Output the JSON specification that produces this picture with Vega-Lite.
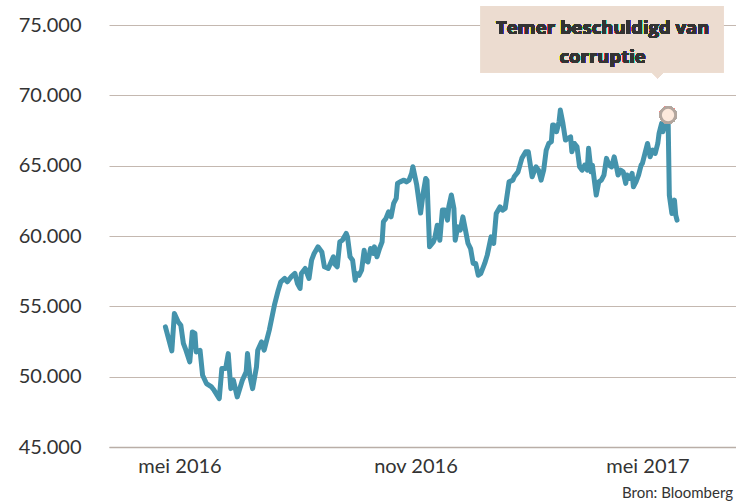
{
  "$schema": "https://vega.github.io/schema/vega-lite/v6.json",
  "width": 627,
  "height": 422,
  "autosize": {"type": "none"},
  "padding": {"left": 109, "top": 25, "right": 0, "bottom": 55},
  "background": "#ffffff",
  "config": {
    "view": {"stroke": null},
    "font": "Lato",
    "axis": {"labelFont": "Lato", "labelColor": "#333333"}
  },
  "title": {
    "text": "Bron: Bloomberg",
    "orient": "bottom",
    "anchor": "end",
    "fontSize": 15,
    "fontWeight": "normal",
    "font": "Lato",
    "color": "#333333",
    "offset": 10,
    "dx": -3
  },
  "data": {
    "values": [
      {"date": "2016-04-20", "value": 53540},
      {"date": "2016-04-25", "value": 51830},
      {"date": "2016-04-27", "value": 54490},
      {"date": "2016-04-30", "value": 53890},
      {"date": "2016-05-02", "value": 53660},
      {"date": "2016-05-04", "value": 52360},
      {"date": "2016-05-06", "value": 51880},
      {"date": "2016-05-09", "value": 51050},
      {"date": "2016-05-11", "value": 53180},
      {"date": "2016-05-13", "value": 53070},
      {"date": "2016-05-14", "value": 51760},
      {"date": "2016-05-17", "value": 51880},
      {"date": "2016-05-19", "value": 50100},
      {"date": "2016-05-22", "value": 49510},
      {"date": "2016-05-26", "value": 49270},
      {"date": "2016-05-28", "value": 49030},
      {"date": "2016-06-01", "value": 48440},
      {"date": "2016-06-03", "value": 50580},
      {"date": "2016-06-06", "value": 50580},
      {"date": "2016-06-08", "value": 51640},
      {"date": "2016-06-10", "value": 49150},
      {"date": "2016-06-12", "value": 49750},
      {"date": "2016-06-15", "value": 48560},
      {"date": "2016-06-19", "value": 49750},
      {"date": "2016-06-22", "value": 50340},
      {"date": "2016-06-23", "value": 51640},
      {"date": "2016-06-25", "value": 49980},
      {"date": "2016-06-27", "value": 49150},
      {"date": "2016-06-30", "value": 50690},
      {"date": "2016-07-01", "value": 51880},
      {"date": "2016-07-04", "value": 52470},
      {"date": "2016-07-06", "value": 51880},
      {"date": "2016-07-08", "value": 52590},
      {"date": "2016-07-10", "value": 53300},
      {"date": "2016-07-14", "value": 55080},
      {"date": "2016-07-17", "value": 56150},
      {"date": "2016-07-19", "value": 56740},
      {"date": "2016-07-22", "value": 56980},
      {"date": "2016-07-24", "value": 56740},
      {"date": "2016-07-27", "value": 57090},
      {"date": "2016-07-30", "value": 57340},
      {"date": "2016-08-01", "value": 56620},
      {"date": "2016-08-03", "value": 56270},
      {"date": "2016-08-04", "value": 57340},
      {"date": "2016-08-07", "value": 57690},
      {"date": "2016-08-08", "value": 57450},
      {"date": "2016-08-10", "value": 56980},
      {"date": "2016-08-12", "value": 58280},
      {"date": "2016-08-14", "value": 58760},
      {"date": "2016-08-17", "value": 59230},
      {"date": "2016-08-20", "value": 58870},
      {"date": "2016-08-22", "value": 57810},
      {"date": "2016-08-25", "value": 57690},
      {"date": "2016-08-29", "value": 58520},
      {"date": "2016-08-30", "value": 58000},
      {"date": "2016-09-01", "value": 57810},
      {"date": "2016-09-03", "value": 59580},
      {"date": "2016-09-05", "value": 59700},
      {"date": "2016-09-08", "value": 60180},
      {"date": "2016-09-09", "value": 59940},
      {"date": "2016-09-11", "value": 58520},
      {"date": "2016-09-13", "value": 58280},
      {"date": "2016-09-15", "value": 56860},
      {"date": "2016-09-16", "value": 57340},
      {"date": "2016-09-18", "value": 57210},
      {"date": "2016-09-20", "value": 57570},
      {"date": "2016-09-22", "value": 58990},
      {"date": "2016-09-23", "value": 58280},
      {"date": "2016-09-25", "value": 58160},
      {"date": "2016-09-27", "value": 59110},
      {"date": "2016-09-29", "value": 58760},
      {"date": "2016-09-30", "value": 59230},
      {"date": "2016-10-02", "value": 58520},
      {"date": "2016-10-04", "value": 59110},
      {"date": "2016-10-06", "value": 59580},
      {"date": "2016-10-07", "value": 61010},
      {"date": "2016-10-09", "value": 61250},
      {"date": "2016-10-11", "value": 61720},
      {"date": "2016-10-13", "value": 61360},
      {"date": "2016-10-15", "value": 62320},
      {"date": "2016-10-17", "value": 62670},
      {"date": "2016-10-18", "value": 63740},
      {"date": "2016-10-20", "value": 63850},
      {"date": "2016-10-23", "value": 63970},
      {"date": "2016-10-25", "value": 63850},
      {"date": "2016-10-27", "value": 63970},
      {"date": "2016-10-29", "value": 64450},
      {"date": "2016-10-30", "value": 64920},
      {"date": "2016-11-02", "value": 63620},
      {"date": "2016-11-05", "value": 61630},
      {"date": "2016-11-07", "value": 63030},
      {"date": "2016-11-09", "value": 64090},
      {"date": "2016-11-10", "value": 63970},
      {"date": "2016-11-12", "value": 59230},
      {"date": "2016-11-15", "value": 59580},
      {"date": "2016-11-16", "value": 59830},
      {"date": "2016-11-18", "value": 60770},
      {"date": "2016-11-20", "value": 59700},
      {"date": "2016-11-22", "value": 61840},
      {"date": "2016-11-24", "value": 61840},
      {"date": "2016-11-26", "value": 61130},
      {"date": "2016-11-27", "value": 62070},
      {"date": "2016-11-29", "value": 62910},
      {"date": "2016-12-01", "value": 61960},
      {"date": "2016-12-02", "value": 59700},
      {"date": "2016-12-04", "value": 60650},
      {"date": "2016-12-06", "value": 60420},
      {"date": "2016-12-08", "value": 61360},
      {"date": "2016-12-10", "value": 60420},
      {"date": "2016-12-12", "value": 59470},
      {"date": "2016-12-14", "value": 59110},
      {"date": "2016-12-16", "value": 58050},
      {"date": "2016-12-18", "value": 58050},
      {"date": "2016-12-20", "value": 57210},
      {"date": "2016-12-22", "value": 57340},
      {"date": "2016-12-25", "value": 58050},
      {"date": "2016-12-27", "value": 58640},
      {"date": "2016-12-30", "value": 59940},
      {"date": "2017-01-01", "value": 59470},
      {"date": "2017-01-03", "value": 61600},
      {"date": "2017-01-06", "value": 62070},
      {"date": "2017-01-08", "value": 61840},
      {"date": "2017-01-10", "value": 61960},
      {"date": "2017-01-13", "value": 63850},
      {"date": "2017-01-16", "value": 63970},
      {"date": "2017-01-17", "value": 64210},
      {"date": "2017-01-20", "value": 64560},
      {"date": "2017-01-23", "value": 65520},
      {"date": "2017-01-26", "value": 65990},
      {"date": "2017-01-28", "value": 65990},
      {"date": "2017-01-31", "value": 64210},
      {"date": "2017-02-01", "value": 64450},
      {"date": "2017-02-03", "value": 64920},
      {"date": "2017-02-05", "value": 64680},
      {"date": "2017-02-07", "value": 63970},
      {"date": "2017-02-09", "value": 64680},
      {"date": "2017-02-11", "value": 66110},
      {"date": "2017-02-13", "value": 66580},
      {"date": "2017-02-15", "value": 66700},
      {"date": "2017-02-16", "value": 67890},
      {"date": "2017-02-17", "value": 67890},
      {"date": "2017-02-19", "value": 67410},
      {"date": "2017-02-21", "value": 68120},
      {"date": "2017-02-22", "value": 68950},
      {"date": "2017-02-24", "value": 68010},
      {"date": "2017-02-26", "value": 66820},
      {"date": "2017-02-28", "value": 66940},
      {"date": "2017-03-02", "value": 67050},
      {"date": "2017-03-03", "value": 65990},
      {"date": "2017-03-05", "value": 66580},
      {"date": "2017-03-07", "value": 66340},
      {"date": "2017-03-09", "value": 64920},
      {"date": "2017-03-11", "value": 64680},
      {"date": "2017-03-13", "value": 65040},
      {"date": "2017-03-15", "value": 64680},
      {"date": "2017-03-16", "value": 66230},
      {"date": "2017-03-18", "value": 64560},
      {"date": "2017-03-19", "value": 65040},
      {"date": "2017-03-22", "value": 62910},
      {"date": "2017-03-24", "value": 63850},
      {"date": "2017-03-26", "value": 63970},
      {"date": "2017-03-28", "value": 64330},
      {"date": "2017-03-30", "value": 65520},
      {"date": "2017-04-01", "value": 65040},
      {"date": "2017-04-03", "value": 64920},
      {"date": "2017-04-05", "value": 65630},
      {"date": "2017-04-07", "value": 64810},
      {"date": "2017-04-08", "value": 64330},
      {"date": "2017-04-10", "value": 64680},
      {"date": "2017-04-12", "value": 64560},
      {"date": "2017-04-14", "value": 63740},
      {"date": "2017-04-15", "value": 64330},
      {"date": "2017-04-17", "value": 64090},
      {"date": "2017-04-19", "value": 64450},
      {"date": "2017-04-20", "value": 63500},
      {"date": "2017-04-22", "value": 63850},
      {"date": "2017-04-24", "value": 64330},
      {"date": "2017-04-26", "value": 65040},
      {"date": "2017-04-27", "value": 65160},
      {"date": "2017-04-29", "value": 65870},
      {"date": "2017-05-01", "value": 66580},
      {"date": "2017-05-03", "value": 65630},
      {"date": "2017-05-05", "value": 66110},
      {"date": "2017-05-07", "value": 65870},
      {"date": "2017-05-09", "value": 66580},
      {"date": "2017-05-10", "value": 67300},
      {"date": "2017-05-12", "value": 68010},
      {"date": "2017-05-13", "value": 67410},
      {"date": "2017-05-15", "value": 68240},
      {"date": "2017-05-17", "value": 68600},
      {"date": "2017-05-18", "value": 62910},
      {"date": "2017-05-20", "value": 61600},
      {"date": "2017-05-22", "value": 62550},
      {"date": "2017-05-23", "value": 61480},
      {"date": "2017-05-24", "value": 61130}
    ]
  },
  "encoding": {
    "x": {
      "field": "date",
      "type": "temporal",
      "scale": {
        "type": "utc",
        "domain": [
          {"year": 2016, "month": 3, "date": 7, "utc": true},
          {"year": 2017, "month": 7, "date": 9, "utc": true}
        ]
      },
      "axis": {
        "title": null,
        "values": [1462060800000, 1477958400000, 1493596800000],
        "labelExpr": "['jan','feb','mrt','apr','mei','jun','jul','aug','sep','okt','nov','dec'][utcmonth(datum.value)] + ' ' + utcyear(datum.value)",
        "grid": false,
        "ticks": false,
        "domain": true,
        "domainColor": "#b9aea7",
        "domainWidth": 1.5,
        "labelFontSize": 20,
        "labelPadding": 9,
        "labelColor": "#333333"
      }
    },
    "y": {
      "field": "value",
      "type": "quantitative",
      "scale": {"domain": [45000, 75000], "nice": false, "zero": false},
      "axis": {
        "title": null,
        "values": [45000, 50000, 55000, 60000, 65000, 70000, 75000],
        "labelExpr": "replace(format(datum.value, ','), ',', '.')",
        "grid": true,
        "gridColor": "#c4b8b0",
        "gridWidth": 1,
        "ticks": false,
        "domain": false,
        "labelFontSize": 20,
        "labelPadding": 28,
        "labelColor": "#333333"
      }
    }
  },
  "layer": [
    {
      "mark": {
        "type": "line",
        "color": "#4493ac",
        "strokeWidth": 5,
        "strokeJoin": "round",
        "strokeCap": "round"
      }
    },
    {
      "mark": {"type": "rect", "color": "#ecdcd0"},
      "encoding": {
        "x": {"datum": {"year": 2016, "month": 12, "date": 22, "utc": true}, "type": "temporal"},
        "x2": {"datum": {"year": 2017, "month": 6, "date": 29, "utc": true}},
        "y": {"datum": 76350, "type": "quantitative"},
        "y2": {"datum": 71600}
      }
    },
    {
      "mark": {"type": "point", "shape": "M-1,0L1,0L0,1Z", "size": 150, "filled": true, "color": "#ecdcd0", "opacity": 1},
      "encoding": {
        "x": {"datum": {"year": 2017, "month": 5, "date": 9, "utc": true}, "type": "temporal"},
        "y": {"datum": 71650, "type": "quantitative"}
      }
    },
    {
      "mark": {"type": "text", "font": "Open Sans", "fontSize": 18.5, "fontWeight": "bold", "color": "#333333", "align": "center", "baseline": "middle"},
      "encoding": {
        "x": {"datum": {"year": 2017, "month": 3, "date": 27, "utc": true}, "type": "temporal"},
        "y": {"datum": 74790, "type": "quantitative"},
        "text": {"value": "Temer beschuldigd van"}
      }
    },
    {
      "mark": {"type": "text", "font": "Open Sans", "fontSize": 18.5, "fontWeight": "bold", "color": "#333333", "align": "center", "baseline": "middle"},
      "encoding": {
        "x": {"datum": {"year": 2017, "month": 3, "date": 27, "utc": true}, "type": "temporal"},
        "y": {"datum": 72720, "type": "quantitative"},
        "text": {"value": "corruptie"}
      }
    },
    {
      "mark": {"type": "point", "shape": "circle", "size": 220, "filled": true, "fill": "#fde9dc", "stroke": "#b3a69e", "strokeWidth": 2.5, "opacity": 1},
      "encoding": {
        "x": {"datum": {"year": 2017, "month": 5, "date": 17, "utc": true}, "type": "temporal"},
        "y": {"datum": 68600, "type": "quantitative"}
      }
    }
  ]
}
